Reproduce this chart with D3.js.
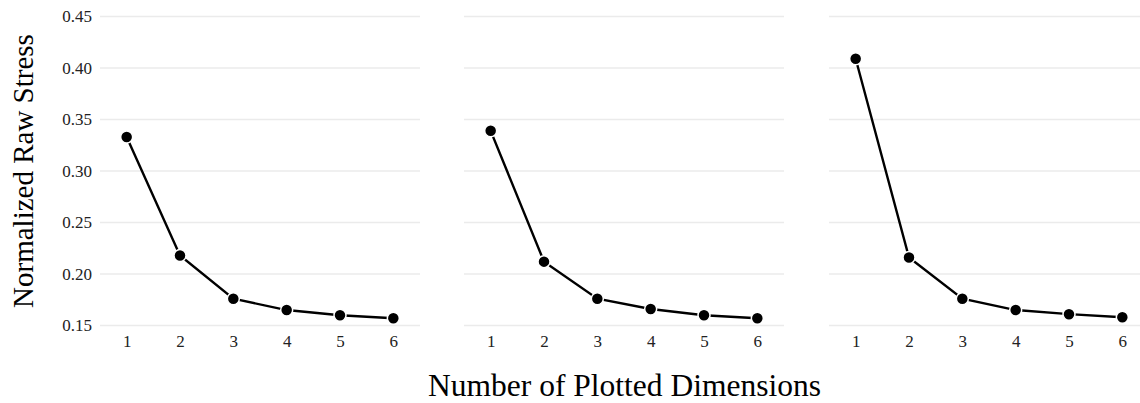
<!DOCTYPE html>
<html>
<head>
<meta charset="utf-8">
<script src="https://cdn.jsdelivr.net/npm/d3@7"></script>
<style>
  html, body { margin: 0; padding: 0; background: #fff; }
  svg { display: block; font-family: "Liberation Serif", "Times New Roman", serif; }
</style>
</head>
<body>
<div id="chart"></div>
<script>
// dimensions 1..6, one stress curve per panel
const dims = [1, 2, 3, 4, 5, 6];
const stressA = [0.333, 0.218, 0.176, 0.165, 0.160, 0.157];
const stressB = [0.339, 0.212, 0.176, 0.166, 0.160, 0.157];
const stressC = [0.409, 0.216, 0.176, 0.165, 0.161, 0.158];
const yTicks = [0.15, 0.20, 0.25, 0.30, 0.35, 0.40, 0.45];

const panels = [stressA, stressB, stressC];

const W = 1140, H = 403;
const plotTop = 16.5, plotBottom = 325.5;
const panelLeft = [100, 464, 829];
const panelW = 320;

const svg = d3.select('#chart').append('svg')
  .attr('width', W)
  .attr('height', H);

const y = d3.scaleLinear().domain([0.15, 0.45]).range([plotBottom, plotTop]);

panels.forEach((values, i) => {
  const x = d3.scaleLinear().domain([0.5, 6.5]).range([panelLeft[i], panelLeft[i] + panelW]);
  const g = svg.append('g');

  g.selectAll('.grid')
    .data(yTicks)
    .join('line')
    .attr('x1', x.range()[0])
    .attr('x2', x.range()[1])
    .attr('y1', d => y(d))
    .attr('y2', d => y(d))
    .attr('stroke', '#ebebeb')
    .attr('stroke-width', 1.5);

  const xAxis = g.append('g')
    .attr('transform', `translate(0,${plotBottom})`)
    .call(d3.axisBottom(x).tickValues(dims).tickSize(0).tickPadding(9).tickFormat(d3.format('d')));
  xAxis.select('.domain').remove();
  xAxis.selectAll('text')
    .attr('font-family', '"Liberation Serif", serif')
    .attr('font-size', 17)
    .attr('fill', '#222');

  if (i === 0) {
    const yAxis = g.append('g')
      .attr('transform', `translate(${panelLeft[0]},0)`)
      .call(d3.axisLeft(y).tickValues(yTicks).tickSize(0).tickPadding(8).tickFormat(d3.format('.2f')));
    yAxis.select('.domain').remove();
    yAxis.selectAll('text')
      .attr('font-family', '"Liberation Serif", serif')
      .attr('font-size', 17)
      .attr('fill', '#222');
  }

  const line = d3.line()
    .x((d, j) => x(dims[j]))
    .y(d => y(d));

  g.append('path')
    .datum(values)
    .attr('d', line)
    .attr('fill', 'none')
    .attr('stroke', '#000')
    .attr('stroke-width', 2.4);

  g.selectAll('.pt')
    .data(values)
    .join('circle')
    .attr('cx', (d, j) => x(dims[j]))
    .attr('cy', d => y(d))
    .attr('r', 6)
    .attr('fill', '#000')
    .attr('stroke', '#fff')
    .attr('stroke-width', 1.5);
});

svg.append('text')
  .attr('x', 624.5)
  .attr('y', 396)
  .attr('text-anchor', 'middle')
  .attr('font-size', 31.5)
  .attr('fill', '#000')
  .text('Number of Plotted Dimensions');

svg.append('text')
  .attr('transform', `translate(33,${(plotTop + plotBottom) / 2}) rotate(-90)`)
  .attr('text-anchor', 'middle')
  .attr('font-size', 29)
  .attr('fill', '#000')
  .text('Normalized Raw Stress');
</script>
</body>
</html>
